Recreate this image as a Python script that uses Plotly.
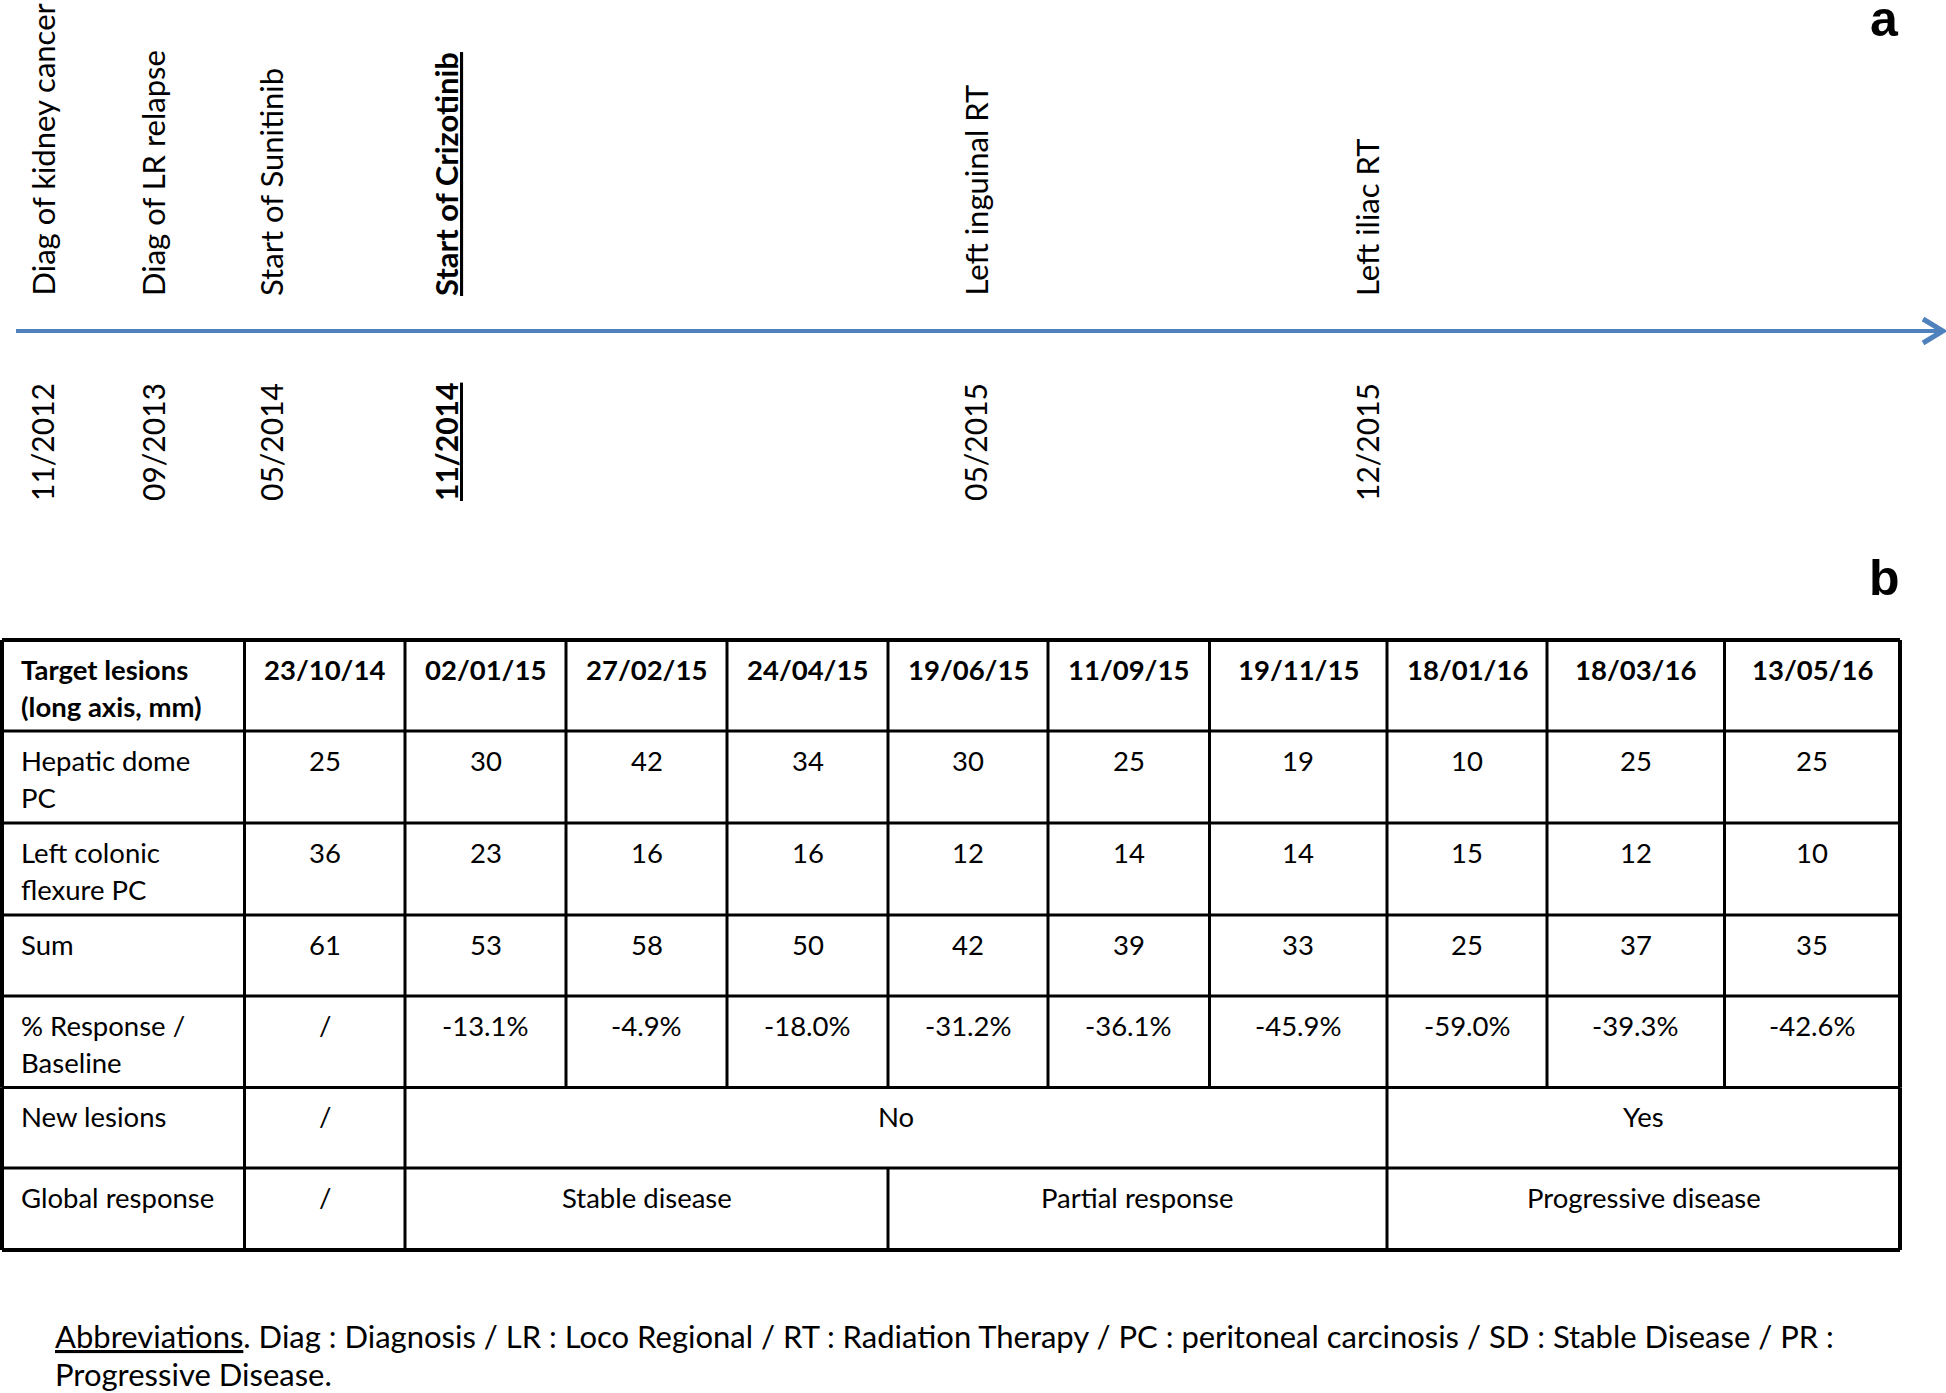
import plotly.graph_objects as go

# ---------------- data ----------------
event_labels = ["Diag of kidney cancer", "Diag of LR relapse", "Start of Sunitinib",
                "Start of Crizotinib", "Left inguinal RT", "Left iliac RT"]
event_dates = ["11/2012", "09/2013", "05/2014", "11/2014", "05/2015", "12/2015"]
event_highlight = [False, False, False, True, False, False]

visit_dates = ["23/10/14", "02/01/15", "27/02/15", "24/04/15", "19/06/15",
               "11/09/15", "19/11/15", "18/01/16", "18/03/16", "13/05/16"]
hepatic_dome_pc = [25, 30, 42, 34, 30, 25, 19, 10, 25, 25]
left_colonic_pc = [36, 23, 16, 16, 12, 14, 14, 15, 12, 10]
sum_lesions = [61, 53, 58, 50, 42, 39, 33, 25, 37, 35]
pct_response = ["/", "-13.1%", "-4.9%", "-18.0%", "-31.2%", "-36.1%",
                "-45.9%", "-59.0%", "-39.3%", "-42.6%"]
new_lesions_text = ["/", "No", "Yes"]
new_lesions_span = [1, 6, 3]
global_response_text = ["/", "Stable disease", "Partial response", "Progressive disease"]
global_response_span = [1, 3, 3, 3]

row_labels = [["Target lesions", "(long axis, mm)"], ["Hepatic dome", "PC"],
              ["Left colonic", "flexure PC"], ["Sum"], ["% Response /", "Baseline"],
              ["New lesions"], ["Global response"]]

abbrev_title = "Abbreviations"
abbrev_line1 = (". Diag : Diagnosis / LR : Loco Regional / RT : Radiation Therapy / "
                "PC : peritoneal carcinosis / SD : Stable Disease / PR :")
abbrev_line2 = "Progressive Disease."

# ---------------- layout constants ----------------
W, H = 1946, 1393
FONT = "Lato"
TL_FONT = "Lato"
event_x = [42, 153, 271, 446, 975, 1367]
label_base_y = 297
date_base_y = 502
axis_y = 331
col_edges = [2, 244.5, 405, 566, 727, 888, 1048, 1209.5, 1387, 1547, 1724.5, 1900]
row_edges = [640, 731, 823, 915, 996, 1087.5, 1168, 1250]
first_line_off = 29
line_step = 37
tsize = 27.5
BLUE = "#4F81BD"

fig = go.Figure()
fig.add_trace(go.Scatter(x=[], y=[], mode="markers", showlegend=False, hoverinfo="skip"))


def txt(x, y, s, size, xanchor="center", yanchor="middle", angle=0, family=FONT, color="black"):
    fig.add_annotation(x=x, y=y, xref="x", yref="y", text=s, showarrow=False,
                       xanchor=xanchor, yanchor=yanchor, textangle=angle, borderpad=0,
                       font=dict(family=family, size=size, color=color))


# ---------------- panel a: timeline ----------------
fig.add_shape(type="line", x0=16, x1=1941, y0=axis_y, y1=axis_y, xref="x", yref="y",
              line=dict(color=BLUE, width=4))
fig.add_shape(type="path", path=f"M1923,{axis_y-12} L1943,{axis_y} L1923,{axis_y+12}",
              xref="x", yref="y", line=dict(color=BLUE, width=5))

for x, lab, d, hl in zip(event_x, event_labels, event_dates, event_highlight):
    l = f"<b><u>{lab}</u></b>" if hl else lab
    dd = f"<b><u>{d}</u></b>" if hl else d
    txt(x, label_base_y, l, 31, yanchor="bottom", angle=-90, family=TL_FONT)
    txt(x, date_base_y, dd, 30, yanchor="bottom", angle=-90, family=TL_FONT)

txt(1884, 19, "<b>a</b>", 50, family="Liberation Sans")
txt(1884, 578, "<b>b</b>", 50, family="Liberation Sans")

# ---------------- panel b: table ----------------
body_rows = [
    [(f"<b>{v}</b>", 1) for v in visit_dates],
    [(str(v), 1) for v in hepatic_dome_pc],
    [(str(v), 1) for v in left_colonic_pc],
    [(str(v), 1) for v in sum_lesions],
    [(v, 1) for v in pct_response],
    list(zip(new_lesions_text, new_lesions_span)),
    list(zip(global_response_text, global_response_span)),
]

x_left, x_right = col_edges[0], col_edges[-1]
for i, yv in enumerate(row_edges):
    outer = i in (0, len(row_edges) - 1)
    fig.add_shape(type="line", x0=x_left, x1=x_right, y0=yv, y1=yv, xref="x", yref="y",
                  line=dict(color="black", width=4 if outer else 3))

for r, (labels, cells) in enumerate(zip(row_labels, body_rows)):
    top, bot = row_edges[r], row_edges[r + 1]
    for k, line in enumerate(labels):
        s = f"<b>{line}</b>" if r == 0 else line
        txt(20, top + first_line_off + k * line_step, s, tsize, xanchor="left")
    bounds = [col_edges[0], col_edges[1]]
    c = 1
    for text, span in cells:
        xa, xb = col_edges[c], col_edges[c + span]
        txt((xa + xb) / 2, top + first_line_off, text, tsize)
        c += span
        bounds.append(xb)
    for j, xv in enumerate(bounds):
        outer = j == 0 or j == len(bounds) - 1
        fig.add_shape(type="line", x0=xv, x1=xv, y0=top, y1=bot, xref="x", yref="y",
                      line=dict(color="black", width=4 if outer else 3))

# ---------------- abbreviations ----------------
txt(54, 1336, f"<u>{abbrev_title}</u>{abbrev_line1}", 31, xanchor="left")
txt(54, 1374, abbrev_line2, 31, xanchor="left")

fig.update_layout(
    width=W, height=H, margin=dict(l=0, r=0, t=0, b=0),
    paper_bgcolor="white", plot_bgcolor="white",
    xaxis=dict(range=[0, W], visible=False, fixedrange=True),
    yaxis=dict(range=[H, 0], visible=False, fixedrange=True),
    showlegend=False,
)
fig.write_html("out.html", config={"displayModeBar": False},
               post_script="document.body.style.margin='0';document.body.style.overflow='hidden';")
